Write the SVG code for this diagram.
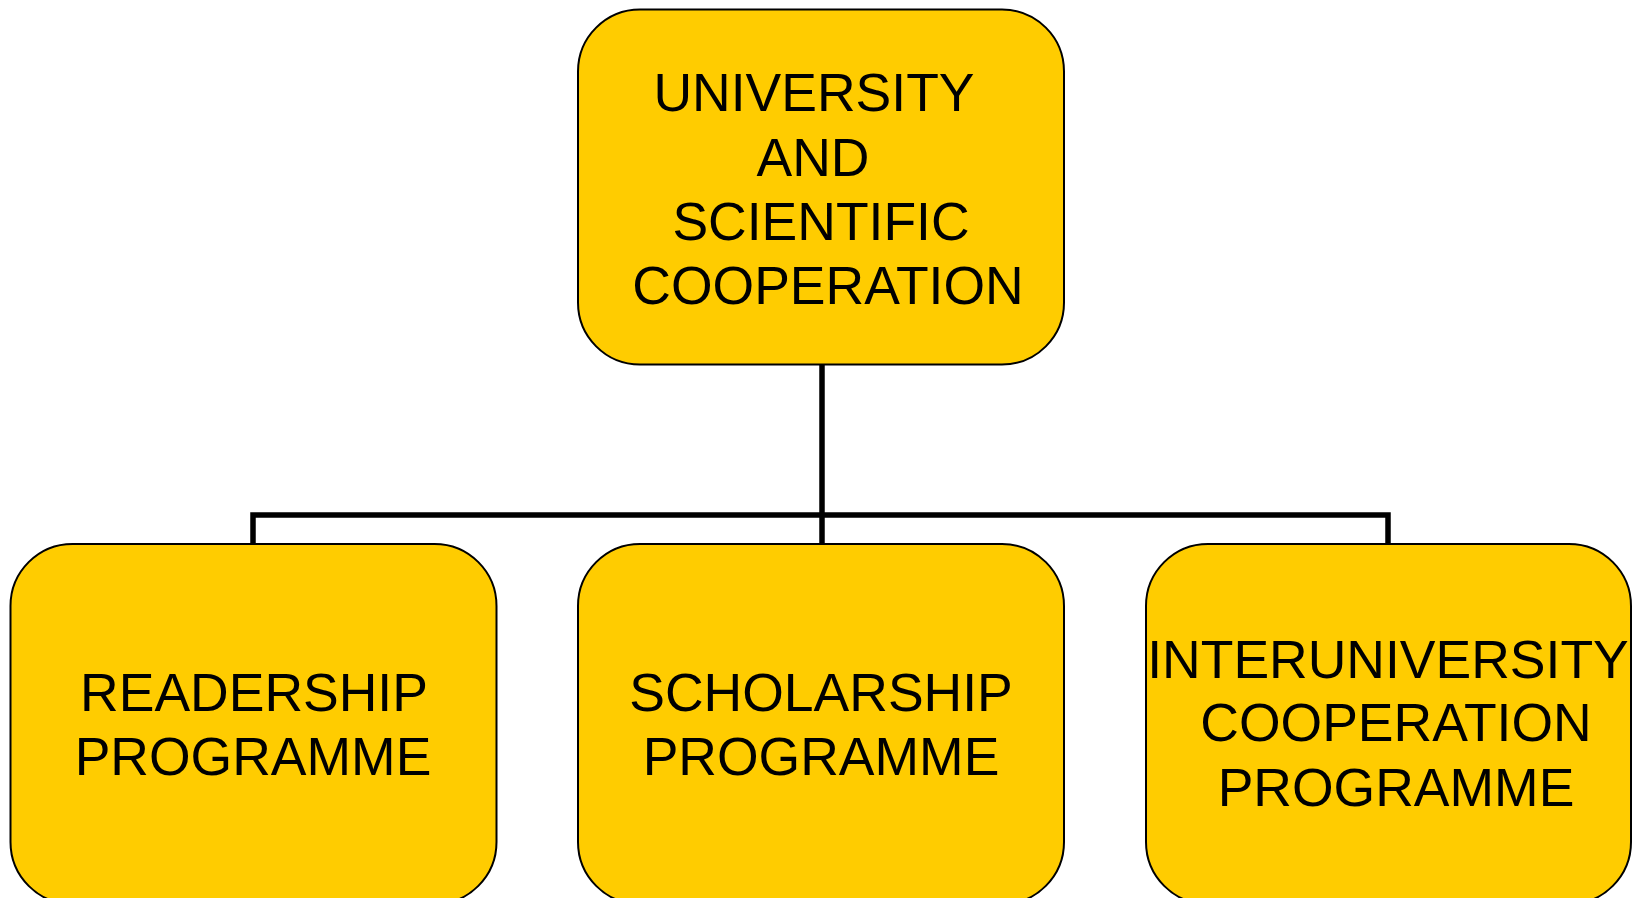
<svg xmlns="http://www.w3.org/2000/svg" width="1633" height="898" viewBox="0 0 1633 898">
<style>
.box{fill:#FFCC00;stroke:#000;stroke-width:2}
.t{font-family:"Liberation Sans",Arial,sans-serif;font-size:53.5px;fill:#000;text-anchor:middle}
.c{fill:none;stroke:#000;stroke-width:5.5}
</style>
<rect width="1633" height="898" fill="#fff"/>
<g id="connectors">
<path class="c" d="M822 365 V544"/>
<path class="c" d="M253 544 V515 H1388 V544"/>
</g>
<g id="root">
<rect class="box" x="578" y="9.5" width="486" height="355" rx="62" ry="62"/>
<text class="t" x="814" y="111">UNIVERSITY</text>
<text class="t" x="813" y="176">AND</text>
<text class="t" x="821" y="240">SCIENTIFIC</text>
<text class="t" x="828" y="304">COOPERATION</text>
</g>
<g id="readership">
<rect class="box" x="10.5" y="544" width="486" height="360" rx="62" ry="62"/>
<text class="t" x="254" y="711">READERSHIP</text>
<text class="t" x="253" y="775">PROGRAMME</text>
</g>
<g id="scholarship">
<rect class="box" x="578" y="544" width="486" height="360" rx="62" ry="62"/>
<text class="t" x="821" y="711">SCHOLARSHIP</text>
<text class="t" x="821" y="775">PROGRAMME</text>
</g>
<g id="interuniversity">
<rect class="box" x="1146" y="544" width="485" height="360" rx="62" ry="62"/>
<text class="t" x="1388" y="678">INTERUNIVERSITY</text>
<text class="t" x="1396" y="741">COOPERATION</text>
<text class="t" x="1396" y="806">PROGRAMME</text>
</g>
</svg>
